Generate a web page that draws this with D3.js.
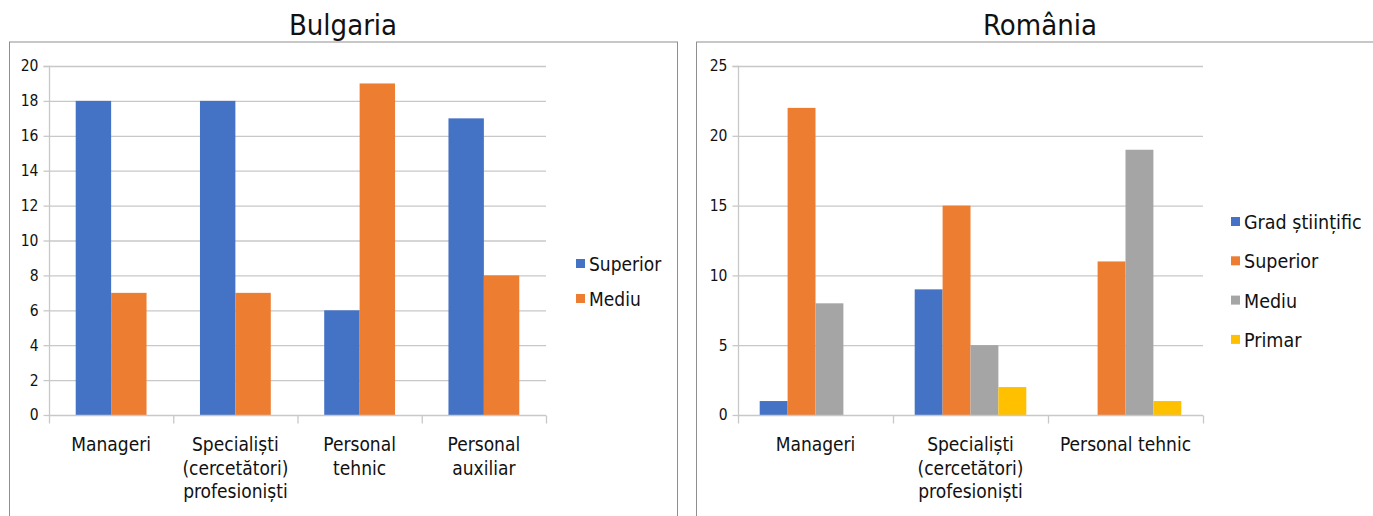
<!DOCTYPE html>
<html><head><meta charset="utf-8">
<script src="https://cdn.jsdelivr.net/npm/d3@7"></script>
<style>
body{margin:0;background:#fff;}
svg text{font-family:"Liberation Sans Narrow","DejaVu Sans Condensed","Open Sans",sans-serif;fill:#111;}
</style></head><body>
<svg id="c" width="1373" height="516"></svg>
<script>
// ---- data ----
const bgCategories = [["Manageri"],["Specialiști","(cercetători)","profesioniști"],["Personal","tehnic"],["Personal","auxiliar"]];
const bgSeries = ["Superior","Mediu"];
const bgSuperior = [18,18,6,17];
const bgMediu = [7,7,19,8];
const bgTicks = [0,2,4,6,8,10,12,14,16,18,20];

const roCategories = [["Manageri"],["Specialiști","(cercetători)","profesioniști"],["Personal tehnic"]];
const roSeries = ["Grad științific","Superior","Mediu","Primar"];
const roGrad = [1,9,0];
const roSuperior = [22,15,11];
const roMediu = [8,5,19];
const roPrimar = [0,2,1];
const roTicks = [0,5,10,15,20,25];

const colors = {"Grad științific":"#4472C4","Superior":"#ED7D31","Mediu":"#A5A5A5","Primar":"#FFC000"};
const bgColors = {"Superior":"#4472C4","Mediu":"#ED7D31"};

const svg = d3.select("#c");

function panel(o){
  const g = svg.append("g");
  g.append("rect").attr("x",o.fx).attr("y",42).attr("width",o.fw).attr("height",500)
   .attr("fill","none").attr("stroke","#8f8f8f").attr("stroke-width",1);
  g.append("text").attr("x",o.tx).attr("y",35).attr("text-anchor","middle")
   .style("font-size","29px").text(o.title);
  const y = d3.scaleLinear().domain([0,o.max]).range([415,66]);
  const x0 = d3.scaleBand().domain(d3.range(o.cats.length)).range([o.x0,o.x1]).padding(0);
  const gw = x0.bandwidth()*o.groupFrac;
  const x1 = d3.scaleBand().domain(o.series).range([0,gw]).padding(0);
  // grid
  g.append("g").selectAll("line").data(o.ticks.filter(t=>t>0)).join("line")
   .attr("x1",o.x0).attr("x2",o.x1).attr("y1",d=>y(d)+0.5).attr("y2",d=>y(d)+0.5)
   .attr("stroke","#c8c8c8").attr("stroke-width",1.3);
  // y axis
  const ya = g.append("g").attr("transform",`translate(${o.x0+0.5},0)`)
   .call(d3.axisLeft(y).tickValues(o.ticks).tickSize(6).tickPadding(5));
  ya.select(".domain").attr("stroke","#c8c8c8").attr("stroke-width",1.3).attr("d",`M-6,${y(o.max)+0.5}H0V${y(0)+0.5}`);
  ya.selectAll(".tick line").attr("stroke","#c8c8c8").attr("stroke-width",1.3);
  ya.selectAll(".tick text").style("font-size","15.5px").attr("fill","#111");
  // bars
  o.series.forEach((s,si)=>{
    g.append("g").selectAll("rect").data(o.values[si]).join("rect")
     .attr("x",(d,i)=>x0(i)+(x0.bandwidth()-gw)/2+x1(s))
     .attr("width",x1.bandwidth())
     .attr("y",d=>y(d)).attr("height",d=>y(0)-y(d))
     .attr("fill",o.colors[s]);
  });
  // x axis
  const xa = g.append("g").attr("transform",`translate(0,${y(0)+0.5})`);
  xa.append("line").attr("x1",o.x0).attr("x2",o.x1).attr("stroke","#c8c8c8").attr("stroke-width",1.3);
  const bounds = d3.range(o.cats.length+1).map(i=>i<o.cats.length?x0(i):o.x1);
  xa.selectAll("line.t").data(bounds).join("line").attr("class","t")
   .attr("x1",d=>d+0.5).attr("x2",d=>d+0.5).attr("y1",0).attr("y2",8)
   .attr("stroke","#c8c8c8").attr("stroke-width",1.3);
  const lab = g.append("g").selectAll("text").data(o.cats).join("text")
   .attr("x",(d,i)=>x0(i)+x0.bandwidth()/2).attr("y",451).attr("text-anchor","middle")
   .style("font-size","19px");
  lab.selectAll("tspan").data(d=>d).join("tspan")
   .attr("x",function(){return this.parentNode.getAttribute("x");})
   .attr("dy",(d,i)=>i===0?0:23.5).text(d=>d);
  // legend
  const lg = g.append("g").selectAll("g").data(o.series).join("g")
   .attr("transform",(d,i)=>`translate(${o.lx},${o.ly+i*o.lstep})`);
  lg.append("rect").attr("x",0).attr("y",-5).attr("width",9).attr("height",9).attr("fill",d=>o.colors[d]);
  lg.append("text").attr("x",13).attr("y",7).style("font-size",o.lfs).text(d=>d);
}

panel({fx:9.5,fw:668,tx:343,title:"Bulgaria",max:20,ticks:bgTicks,cats:bgCategories,
  x0:49,x1:546,groupFrac:0.57,series:bgSeries,values:[bgSuperior,bgMediu],colors:bgColors,
  lx:576,ly:264,lstep:35,lfs:"19px"});
panel({fx:696.5,fw:700,tx:1040,title:"România",max:25,ticks:roTicks,cats:roCategories,
  x0:738,x1:1203,groupFrac:0.72,series:roSeries,values:[roGrad,roSuperior,roMediu,roPrimar],colors:colors,
  lx:1231,ly:222,lstep:39.3,lfs:"19.5px"});
</script>
</body></html>
